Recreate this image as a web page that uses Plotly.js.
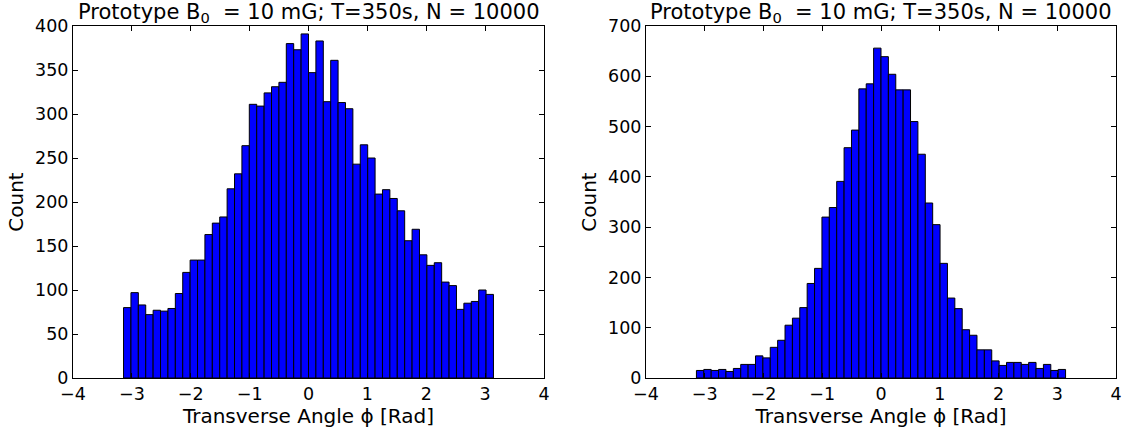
<!DOCTYPE html>
<html><head><meta charset="utf-8">
<script src="https://cdn.plot.ly/plotly-3.0.1.min.js"></script>
<style>html,body{margin:0;padding:0;background:#fff}</style>
</head><body><div id="chart" style="width:1131px;height:434px"></div>
<script>
// Bin counts (50 bins spanning -pi..pi)
const countsLeft = [80,97,83,72,77,76,79,96,120,134,
                    134,163,176,183,215,232,264,311,309,324,
                    331,336,380,373,391,347,383,314,361,313,
                    306,243,265,250,209,214,204,190,156,169,
                    140,128,131,109,105,78,85,87,100,95];
const countsRight = [15,17,15,17,13,19,27,27,44,40,
                     61,75,105,119,140,188,218,320,339,391,
                     458,493,575,585,656,639,604,573,573,510,
                     445,348,305,228,159,138,96,85,56,56,
                     34,25,31,31,27,31,19,27,15,17];
const binStart = -Math.PI, binEnd = Math.PI, nBins = 50;
const titleText = "Prototype B<sub>0</sub>  = 10 mG; T=350s, N = 10000";
const xLabel = "Transverse Angle ϕ [Rad]";
const yLabel = "Count";
const xTicks = [-4,-3,-2,-1,0,1,2,3,4];
const yTicksLeft = [0,50,100,150,200,250,300,350,400];
const yTicksRight = [0,100,200,300,400,500,600,700];

const w = (binEnd - binStart) / nBins;
const centers = Array.from({length: nBins}, (_, k) => binStart + (k + 0.5) * w);
const font = "DejaVu Sans, sans-serif";

function bar(counts, xa, ya) {
  return {type: 'bar', x: centers, y: counts, width: w, xaxis: xa, yaxis: ya,
    marker: {color: '#0000ff', line: {color: '#000000', width: 1}}, hoverinfo: 'x+y'};
}
function xAxis(domain, anchor) {
  return {domain: domain, anchor: anchor, range: [-4, 4], tickvals: xTicks,
    ticks: 'inside', ticklen: 5, tickcolor: '#000', mirror: 'allticks', showline: true,
    linecolor: '#000', linewidth: 1, showgrid: false, zeroline: false,
    tickfont: {family: font, size: 17.5, color: '#000'},
    title: {text: xLabel, font: {family: font, size: 20, color: '#000'}, standoff: 4}};
}
function yAxis(domain, anchor, range, vals) {
  return {domain: domain, anchor: anchor, range: range, tickvals: vals,
    ticks: 'inside', ticklen: 5, tickcolor: '#000', mirror: 'allticks', showline: true,
    linecolor: '#000', linewidth: 1, showgrid: false, zeroline: false,
    tickfont: {family: font, size: 17.5, color: '#000'},
    title: {text: yLabel, font: {family: font, size: 20, color: '#000'}, standoff: 6}};
}
const yDom = [56/434, 408/434];
const layout = {
  width: 1131, height: 434, margin: {l: 0, r: 0, t: 0, b: 0},
  paper_bgcolor: '#fff', plot_bgcolor: '#fff', showlegend: false, bargap: 0,
  xaxis: xAxis([73/1131, 544/1131], 'y'),
  yaxis: yAxis(yDom, 'x', [0, 400], yTicksLeft),
  xaxis2: xAxis([646/1131, 1116/1131], 'y2'),
  yaxis2: yAxis(yDom, 'x2', [0, 700], yTicksRight),
  annotations: [
    {text: titleText, xref: 'paper', yref: 'paper', x: 308.5/1131, y: 408/434, yanchor: 'bottom',
     xanchor: 'center', showarrow: false, yshift: -2, font: {family: font, size: 21, color: '#000'}},
    {text: titleText, xref: 'paper', yref: 'paper', x: 881/1131, y: 408/434, yanchor: 'bottom',
     xanchor: 'center', showarrow: false, yshift: -2, font: {family: font, size: 21, color: '#000'}}
  ]
};
Plotly.newPlot('chart', [bar(countsLeft, 'x', 'y'), bar(countsRight, 'x2', 'y2')], layout,
  {displayModeBar: false, staticPlot: true});
</script></body></html>
